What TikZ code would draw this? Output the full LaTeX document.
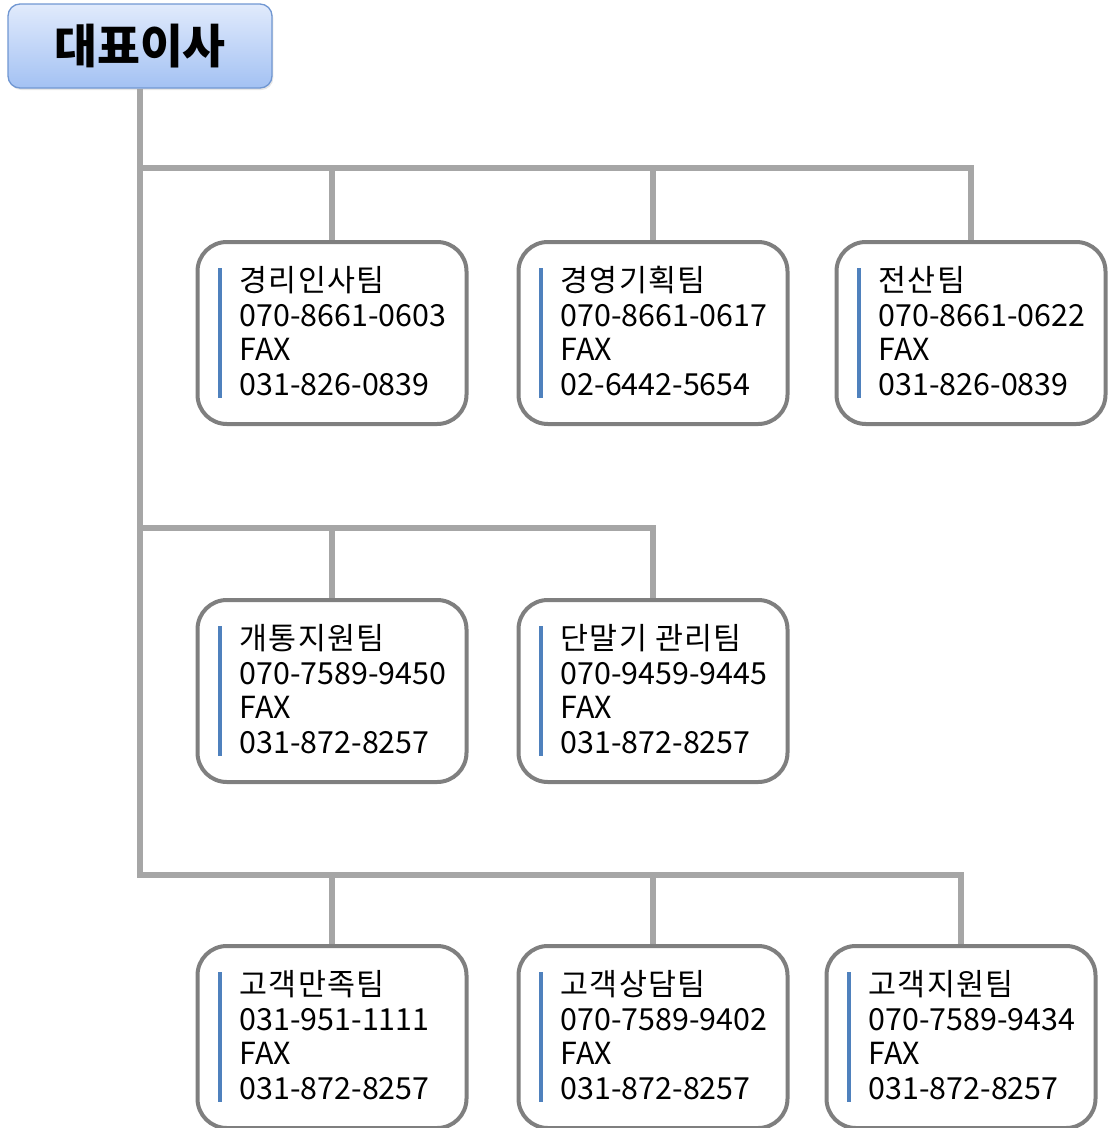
\documentclass[tikz,border=0pt]{standalone}
\usepackage{fontspec}
\setmainfont{Noto Sans CJK KR}
\usetikzlibrary{shadows}
\definecolor{linegray}{HTML}{A6A6A6}
\definecolor{boxgray}{HTML}{7F7F7F}
\definecolor{barblue}{HTML}{4F81BD}
\definecolor{ceotop}{HTML}{E1EBFC}
\definecolor{ceobot}{HTML}{A3C1F3}
\definecolor{ceoline}{HTML}{7097D2}
\newfontfamily\titlefont[LetterSpace=4]{Noto Sans CJK KR}
\tikzset{
  conn/.style={draw=linegray, line width=4.5pt},
  team/.style={draw=boxgray, line width=3pt, rounded corners=22pt,
    minimum width=201.75pt, minimum height=136.5pt, fill=white},
  teamtext/.style={align=left, anchor=west, inner sep=0pt,
    font=\fontsize{22.8}{25.9}\selectfont},
  bar/.style={draw=barblue, line width=3pt},
}
\begin{document}
\begin{tikzpicture}[x=0.75pt,y=-0.75pt]
    \useasboundingbox (0,0) rectangle (1110,1128);
    % head of the company
    \node[draw=ceoline, line width=1pt, rounded corners=9pt,
      top color=ceotop, bottom color=ceobot,
      minimum width=198pt, minimum height=63pt,
      drop shadow={opacity=0.2, shadow xshift=1pt, shadow yshift=-1.5pt},
      font=\fontsize{35}{38}\selectfont\bfseries] (ceo) at (140,46) {대표이사};
    % teams
    \foreach \nm/\cx/\cy/\ttl/\tel/\fax in {
        t1/332/333/경리인사팀/070-8661-0603/031-826-0839,
        t2/653/333/경영기획팀/070-8661-0617/02-6442-5654,
        t3/971/333/전산팀/070-8661-0622/031-826-0839,
        t4/332/691/개통지원팀/070-7589-9450/031-872-8257,
        t5/653/691/단말기 관리팀/070-9459-9445/031-872-8257,
        t6/332/1037/고객만족팀/031-951-1111/031-872-8257,
        t7/653/1037/고객상담팀/070-7589-9402/031-872-8257,
        t8/961/1037/고객지원팀/070-7589-9434/031-872-8257}
    {
        \node[team] (\nm) at (\cx,\cy) {};
        \draw[bar] ([xshift=18pt,yshift=48.75pt]\nm.west) -- ([xshift=18pt,yshift=-48.75pt]\nm.west);
        \node[teamtext] (\nm-txt) at ([xshift=33pt,yshift=1.5pt]\nm.west) {{\titlefont\ttl}\\\tel\\FAX\\\fax};
    }
    % connectors
    \coordinate (j1) at (140,168);
    \coordinate (j2) at (140,528);
    \coordinate (j3) at (140,875);
    \draw[conn] (ceo.south) -- (j3) -| (t8.north);
    \draw[conn] (j1) -| (t3.north);
    \draw[conn] (j2) -| (t5.north);
    \draw[conn] (t1.north) -- (t1.north |- j1);
    \draw[conn] (t2.north) -- (t2.north |- j1);
    \draw[conn] (t4.north) -- (t4.north |- j2);
    \draw[conn] (t6.north) -- (t6.north |- j3);
    \draw[conn] (t7.north) -- (t7.north |- j3);
\end{tikzpicture}
\end{document}
